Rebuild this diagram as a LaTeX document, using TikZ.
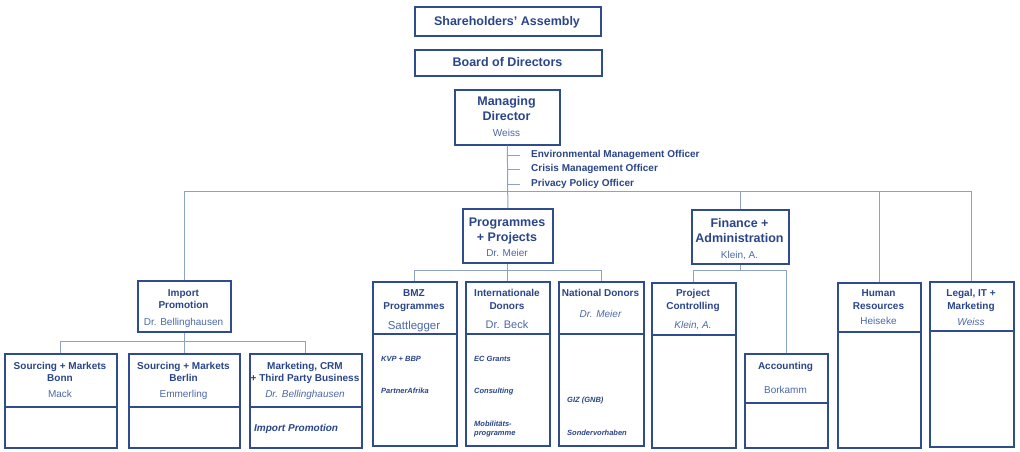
\documentclass[tikz,border=0pt]{standalone}
\usepackage{fontspec}
\setmainfont{Liberation Sans}
\definecolor{titlec}{HTML}{2A4589}
\definecolor{namec}{HTML}{4D68A6}
\definecolor{borderc}{HTML}{2F4D8E}
\definecolor{connc}{HTML}{8EA2C9}
\newcommand\T[5]{\node[#4] (#1) at (#2,#3) {#5};}
\begin{document}
\begin{tikzpicture}[x=1pt,y=-1pt,
  box/.style={draw=borderc, line width=1.7pt, anchor=north west, inner sep=0pt},
  divl/.style={draw=borderc, line width=1.7pt},
  conn/.style={draw=connc, line width=1pt},
  tb/.style={anchor=base, inner sep=0pt, text=titlec, font=\bfseries\fontsize{12.5}{14}\selectfont},
  ts/.style={anchor=base, inner sep=0pt, text=titlec, font=\bfseries\fontsize{10}{12}\selectfont},
  nm/.style={anchor=base, inner sep=0pt, text=namec, font=\fontsize{10}{12}\selectfont},
  nmi/.style={anchor=base, inner sep=0pt, text=namec, font=\itshape\fontsize{10}{12}\selectfont},
  off/.style={anchor=base west, inner sep=0pt, text=titlec, font=\bfseries\fontsize{10}{12}\selectfont},
  item/.style={anchor=base west, inner sep=0pt, text=titlec, font=\bfseries\itshape\fontsize{7.5}{9}\selectfont},
]
\useasboundingbox[fill=white] (0,0) rectangle (1020,451);

% boxes
\node[box, minimum width=186pt, minimum height=29pt] (sa) at (414,6) {};
\node[box, minimum width=187pt, minimum height=26pt] (bod) at (414,49) {};
\node[box, minimum width=105pt, minimum height=55pt] (md) at (454,89) {};
\node[box, minimum width=90pt, minimum height=54pt] (pp) at (462,208) {};
\node[box, minimum width=97pt, minimum height=54pt] (fa) at (691,209) {};
\node[box, minimum width=93pt, minimum height=51pt] (ip) at (137,280) {};
\node[box, minimum width=112pt, minimum height=94pt] (bonn) at (4,353) {};
\node[box, minimum width=111pt, minimum height=94pt] (berlin) at (128,353) {};
\node[box, minimum width=112pt, minimum height=94pt] (mkt) at (249,353) {};
\node[box, minimum width=84pt, minimum height=164pt] (bmz) at (372,281) {};
\node[box, minimum width=84pt, minimum height=164pt] (intl) at (465,281) {};
\node[box, minimum width=85pt, minimum height=164pt] (nat) at (558,281) {};
\node[box, minimum width=84pt, minimum height=165pt] (pc) at (651,282) {};
\node[box, minimum width=83pt, minimum height=94pt] (acc) at (744,353) {};
\node[box, minimum width=83pt, minimum height=165pt] (hr) at (837,282) {};
\node[box, minimum width=84pt, minimum height=165pt] (legal) at (929,281) {};

% dividers
\foreach \b/\d in {bonn/54, berlin/54, mkt/54, bmz/53, intl/53, nat/53, pc/53, acc/50, hr/50, legal/50}
  \draw[divl] ([yshift=-\d pt]\b.north west) -- ([yshift=-\d pt]\b.north east);

% connectors
\coordinate (bus) at (507,191);
\coordinate (pbus) at (507,270);
\coordinate (fbus) at (739,270);
\coordinate (ibus) at (183,341);
\draw[conn] (md.south) -- (pp.north);
\draw[conn] (ip.north) -- (ip.north |- bus) -- (legal.north |- bus) -- (legal.north);
\draw[conn] (fa.north) -- (fa.north |- bus);
\draw[conn] (hr.north) -- (hr.north |- bus);
\draw[conn] (pp.south) -- (intl.north);
\draw[conn] (bmz.north) -- (bmz.north |- pbus) -- (nat.north |- pbus) -- (nat.north);
\draw[conn] (fa.south) -- (fa.south |- fbus);
\draw[conn] (pc.north) -- (pc.north |- fbus) -- (acc.north |- fbus) -- (acc.north);
\draw[conn] (ip.south) -- (berlin.north);
\draw[conn] (bonn.north) -- (bonn.north |- ibus) -- (mkt.north |- ibus) -- (mkt.north);

% top
\T{tsa}{507}{25}{tb}{Shareholders’ Assembly}
\T{tbod}{507.5}{66.5}{tb}{Board of Directors}
\T{tmd1}{506.5}{105.5}{tb}{Managing}
\T{tmd2}{506.5}{120.5}{tb}{Director}
\T{tmd3}{506.5}{136.6}{nm}{Weiss}

% officers
\T{off1}{531}{157.6}{off}{Environmental Management Officer}
\T{off2}{531}{171.6}{off}{Crisis Management Officer}
\T{off3}{531}{186.6}{off}{Privacy Policy Officer}
\foreach \o in {off1,off2,off3}
  \draw[conn] (md.south |- \o.west) -- ([xshift=-11pt]\o.west);

% programmes + projects
\T{tpp1}{507}{226.5}{tb}{Programmes}
\T{tpp2}{507}{241.5}{tb}{+ Projects}
\T{tpp3}{507}{256.6}{nm}{Dr. Meier}

% finance
\T{tfa1}{739.5}{227.5}{tb}{Finance +}
\T{tfa2}{739.5}{242.5}{tb}{Administration}
\T{tfa3}{739.5}{258.6}{nm}{Klein, A.}

% import promotion
\T{tip1}{183.5}{296.6}{ts}{Import}
\T{tip2}{183.5}{308.6}{ts}{Promotion}
\T{tip3}{183.5}{325.6}{nm}{Dr. Bellinghausen}

\T{tbo1}{60}{369.6}{ts}{Sourcing + Markets}
\T{tbo2}{60}{381.6}{ts}{Bonn}
\T{tbo3}{60}{397.6}{nm}{Mack}

\T{tbe1}{183.5}{369.6}{ts}{Sourcing + Markets}
\T{tbe2}{183.5}{381.6}{ts}{Berlin}
\T{tbe3}{183.5}{397.6}{nm}{Emmerling}

\T{tmk1}{305}{369.6}{ts}{Marketing, CRM}
\T{tmk2}{305}{381.6}{ts}{+ Third Party Business}
\T{tmk3}{305}{397.6}{nmi}{Dr. Bellinghausen}
\T{tmk4}{254}{431.6}{off,font=\bfseries\itshape\fontsize{10}{12}\selectfont}{Import Promotion}

% programme sub units
\T{tbm1}{414}{296.6}{ts}{BMZ}
\T{tbm2}{414}{309.6}{ts}{Programmes}
\T{tbm3}{414}{329.1}{nm,font=\fontsize{11.5}{13}\selectfont}{Sattlegger}
\T{ibm1}{381}{361.7}{item}{KVP + BBP}
\T{ibm2}{381}{393.7}{item}{PartnerAfrika}

\T{tin1}{507}{296.6}{ts}{Internationale}
\T{tin2}{507}{309.6}{ts}{Donors}
\T{tin3}{507}{328}{nm,font=\fontsize{11}{13}\selectfont}{Dr. Beck}
\T{iin1}{474}{361.7}{item}{EC Grants}
\T{iin2}{474}{393.7}{item}{Consulting}
\T{iin3}{474}{426.7}{item}{Mobilitäts-}
\T{iin4}{474}{435.7}{item}{programme}

\T{tna1}{600.5}{296.6}{ts}{National Donors}
\T{tna2}{600.5}{317.6}{nmi}{Dr. Meier}
\T{ina1}{567}{402.7}{item}{GIZ (GNB)}
\T{ina2}{567}{435.7}{item}{Sondervorhaben}

% finance sub units
\T{tpc1}{693}{296.6}{ts}{Project}
\T{tpc2}{693}{309.6}{ts}{Controlling}
\T{tpc3}{693}{328.6}{nmi}{Klein, A.}

\T{tac1}{785.5}{369.6}{ts}{Accounting}
\T{tac2}{785.5}{393.6}{nm}{Borkamm}

\T{thr1}{878.5}{296.6}{ts}{Human}
\T{thr2}{878.5}{309.6}{ts}{Resources}
\T{thr3}{878.5}{324.6}{nm}{Heiseke}

\T{tlg1}{971}{296.6}{ts}{Legal, IT +}
\T{tlg2}{971}{309.6}{ts}{Marketing}
\T{tlg3}{971}{325.6}{nmi}{Weiss}
\end{tikzpicture}
\end{document}
